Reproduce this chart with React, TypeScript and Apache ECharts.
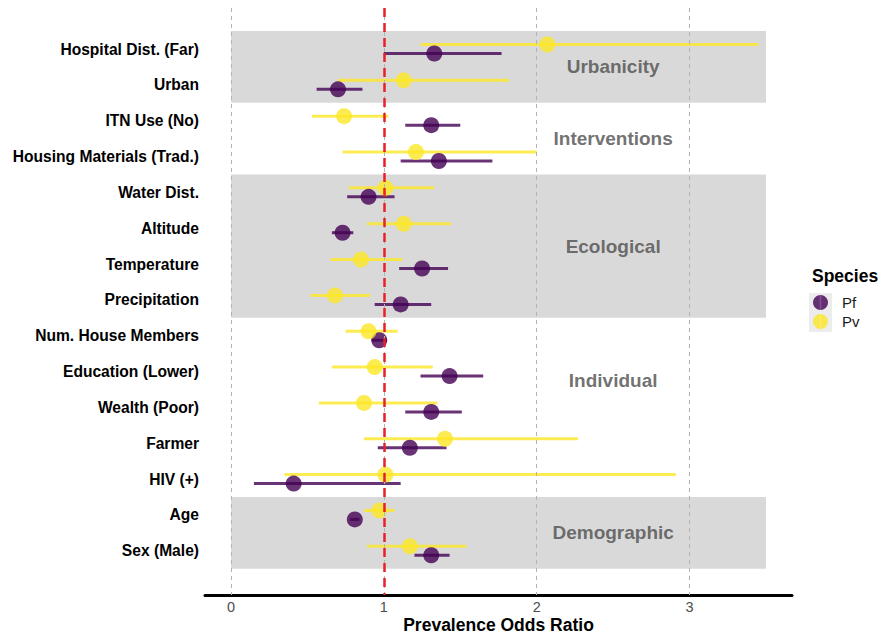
import React, { useEffect, useRef } from "react";
import * as echarts from "echarts";

const categories = [
  "Hospital Dist. (Far)",
  "Urban",
  "ITN Use (No)",
  "Housing Materials (Trad.)",
  "Water Dist.",
  "Altitude",
  "Temperature",
  "Precipitation",
  "Num. House Members",
  "Education (Lower)",
  "Wealth (Poor)",
  "Farmer",
  "HIV (+)",
  "Age",
  "Sex (Male)",
];

const pfOR = [1.33, 0.7, 1.31, 1.36, 0.9, 0.73, 1.25, 1.11, 0.97, 1.43, 1.31, 1.17, 0.41, 0.81, 1.31];
const pfLo = [1.0, 0.56, 1.14, 1.11, 0.76, 0.66, 1.1, 0.94, 0.92, 1.24, 1.14, 0.96, 0.15, 0.78, 1.2];
const pfHi = [1.77, 0.86, 1.5, 1.71, 1.07, 0.8, 1.42, 1.31, 1.02, 1.65, 1.51, 1.41, 1.11, 0.84, 1.43];

const pvOR = [2.07, 1.13, 0.74, 1.21, 1.01, 1.13, 0.85, 0.68, 0.9, 0.94, 0.87, 1.4, 1.01, 0.97, 1.17];
const pvLo = [1.24, 0.7, 0.53, 0.73, 0.77, 0.89, 0.65, 0.52, 0.75, 0.66, 0.575, 0.87, 0.35, 0.87, 0.89];
const pvHi = [3.45, 1.82, 1.03, 2.0, 1.33, 1.44, 1.12, 0.91, 1.09, 1.32, 1.35, 2.27, 2.91, 1.07, 1.54];

const xTicks = [0, 1, 2, 3];
const groupNames = ["Urbanicity", "Interventions", "Ecological", "Individual", "Demographic"];
const groupY = [1.5, 3.5, 6.5, 10.25, 14.5];
const groupX = 2.5;
const shadedBands = [
  [0.5, 2.5],
  [4.5, 8.5],
  [13.5, 15.5],
];
const bandX = [0, 3.5];
const refValue = 1;

const PF = "#440154";
const PV = "#FDE725";
const FONT = "'Liberation Sans', Arial, Helvetica, sans-serif";

function ciSeries(name: string, lo: number[], hi: number[], color: string, off: number) {
  return {
    name,
    type: "custom",
    z: 3,
    itemStyle: { color, opacity: 0.8 },
    data: lo.map((l, i) => [l, hi[i], i + 1]),
    encode: { x: [0, 1], y: 2 },
    renderItem: (params: any, api: any) => {
      const p1 = api.coord([api.value(0), api.value(2)]);
      const p2 = api.coord([api.value(1), api.value(2)]);
      return {
        type: "line",
        shape: { x1: p1[0], y1: p1[1] + off, x2: p2[0], y2: p2[1] + off },
        style: { stroke: color, lineWidth: 3, opacity: 0.8 },
      };
    },
  };
}

function pointSeries(name: string, vals: number[], color: string, off: number) {
  return {
    name,
    type: "scatter",
    z: 4,
    symbol: "circle",
    symbolSize: 16,
    symbolOffset: [0, off],
    itemStyle: { color, opacity: 0.8 },
    data: vals.map((v, i) => [v, i + 1]),
  };
}

export default function App() {
  const ref = useRef<HTMLDivElement>(null);
  useEffect(() => {
    document.body.style.margin = "0";
    const chart = echarts.init(ref.current!, null, { renderer: "svg" });
    const option: any = {
      animation: false,
      textStyle: { fontFamily: FONT },
      grid: { left: 205, right: 86, top: 8, bottom: 42, outerBoundsMode: "none", containLabel: false },
      xAxis: {
        type: "value",
        min: -0.17,
        max: 3.67,
        axisLine: { onZero: false, lineStyle: { color: "#000", width: 3 } },
        axisTick: { show: false },
        splitLine: { show: false },
        axisLabel: {
          customValues: xTicks,
          color: "#4d4d4d",
          fontSize: 14.5,
          lineHeight: 14,
          margin: 5,
          fontFamily: FONT,
        },
        name: "Prevalence Odds Ratio",
        nameLocation: "middle",
        nameGap: 21,
        nameMoveOverlap: false,
        nameTextStyle: {
          fontSize: 17.5,
          fontWeight: "bold",
          color: "#000",
          fontFamily: FONT,
          verticalAlign: "top",
          lineHeight: 18,
        },
      },
      yAxis: {
        type: "value",
        inverse: true,
        min: -0.144,
        max: 16.234,
        axisLine: { show: false },
        axisTick: { show: false },
        splitLine: { show: false },
        axisLabel: {
          customValues: categories.map((_, i) => i + 1),
          formatter: (v: number) => categories[Math.round(v) - 1] ?? "",
          color: "#000",
          fontSize: 15.6,
          fontWeight: "bold",
          margin: 6,
          fontFamily: FONT,
        },
      },
      legend: {
        orient: "vertical",
        left: 813,
        top: 295,
        padding: 0,
        itemWidth: 15,
        itemHeight: 15,
        itemGap: 4,
        data: [
          { name: "Pf", icon: "circle" },
          { name: "Pv", icon: "circle" },
        ],
        textStyle: { fontSize: 15, color: "#1a1a1a", fontFamily: FONT, padding: [0, 0, 0, 9] },
        selectedMode: false,
      },
      graphic: [
        {
          type: "rect",
          left: 809,
          top: 293,
          shape: { width: 23, height: 39 },
          style: { fill: "#ececec" },
          z: 0,
        },
        {
          type: "line",
          shape: { x1: 820.5, y1: 295, x2: 820.5, y2: 310 },
          style: { stroke: "rgba(140,100,160,0.7)", lineWidth: 1.5 },
          z: 10,
        },
        {
          type: "line",
          shape: { x1: 820.5, y1: 314, x2: 820.5, y2: 329 },
          style: { stroke: "rgba(255,240,120,0.6)", lineWidth: 1.5 },
          z: 10,
        },
        {
          type: "text",
          left: 812,
          top: 267,
          style: { text: "Species", font: `bold 17.5px ${FONT}`, fill: "#000" },
        },
      ],
      series: [
        {
          name: "bands",
          type: "scatter",
          z: 1,
          data: [],
          silent: true,
          markArea: {
            silent: true,
            itemStyle: { color: "rgba(128,128,128,0.3)" },
            data: shadedBands.map((b) => [
              { xAxis: bandX[0], yAxis: b[0] },
              { xAxis: bandX[1], yAxis: b[1] },
            ]),
          },
          markLine: {
            silent: true,
            symbol: "none",
            label: { show: false },
            lineStyle: { color: "#b3b3b3", type: [4, 4], width: 1 },
            data: xTicks.map((t) => ({ xAxis: t })),
          },
        },
        {
          name: "groups",
          type: "scatter",
          z: 2,
          symbolSize: 0,
          silent: true,
          data: groupNames.map((g, i) => ({ value: [groupX, groupY[i]], name: g })),
          label: {
            show: true,
            position: "inside",
            formatter: (p: any) => p.name,
            fontSize: 19,
            fontWeight: "bold",
            color: "#4d4d4d",
            fontFamily: FONT,
          },
        },
        pointSeries("Pf", pfOR, PF, 4.5),
        pointSeries("Pv", pvOR, PV, -4.5),
        ciSeries("Pv", pvLo, pvHi, PV, -4.5),
        ciSeries("Pf", pfLo, pfHi, PF, 4.5),
        {
          name: "ref",
          type: "scatter",
          z: 5,
          data: [],
          silent: true,
          markLine: {
            silent: true,
            symbol: "none",
            label: { show: false },
            lineStyle: { color: "#e8202a", type: [9, 6], width: 2.5 },
            data: [{ xAxis: refValue }],
          },
        },
      ],
    };
    chart.setOption(option);
    return () => chart.dispose();
  }, []);
  return <div ref={ref} style={{ position: "absolute", left: 0, top: 0, width: 878, height: 637 }} />;
}
